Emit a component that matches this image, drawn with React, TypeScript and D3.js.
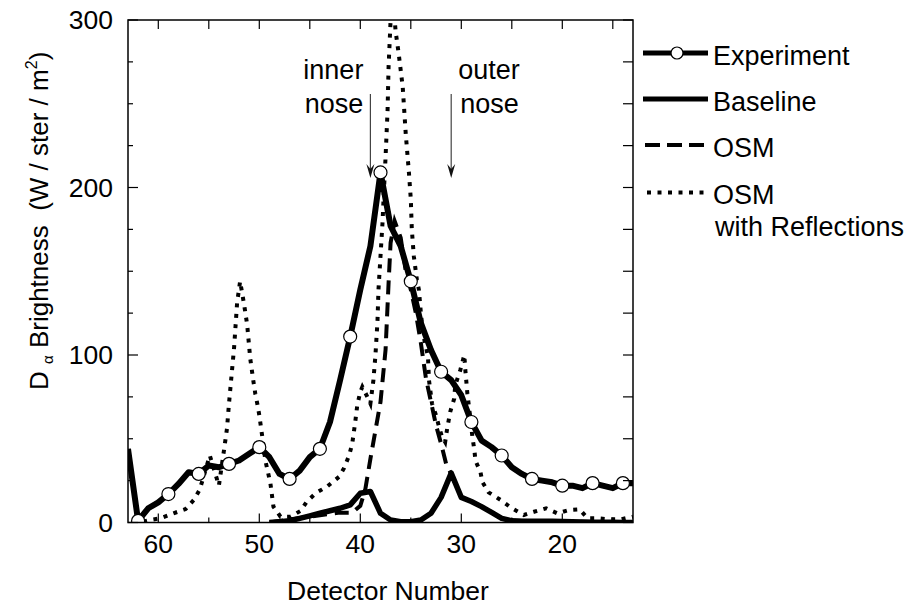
import React from 'react';
import * as d3 from 'd3';

// detector numbers for the measured profile (63 down to 13)
const expDetectors = d3.range(63, 12, -1);
const expValues = [
  44, 1, 8.5, 12, 17, 23, 30, 29, 34, 33, 35, 37, 41, 45, 39, 29, 26, 31, 39, 44,
  60, 85, 111, 139, 165, 209, 177, 165, 144, 119, 103, 90, 85, 76, 60, 49, 45, 40,
  33, 29, 26, 25, 24, 22, 22, 20.5, 23.5, 22, 20.5, 23.5, 23.5,
];

const baseDetectors = d3.range(49, 12, -1);
const baseValues = [
  0, 0.5, 1, 2.5, 4, 5.5, 7, 8.5, 10.5, 17.5, 18.5, 5.5, 1.5, 0.5, 0.5, 1.5, 5.5,
  15, 29.5, 15, 12.5, 9.5, 6, 2.5, 1, 0.8, 0.8, 0.8, 0.8, 0.6, 0.5, 0.3, 0.2, 0.2,
  0.1, 0, 0,
];

const osmDetectors = [49, 45, 42.2, 40.8, 40, 39.5, 39, 38.5, 38, 37.5, 37.2, 37, 36.6, 36, 35.5, 35, 34.5, 34, 33.5, 33, 32.5, 32, 31.5, 31, 30, 29, 28, 27, 26, 25, 20, 13];
const osmValues = [0, 3.5, 5.8, 5.8, 10, 20, 38, 55, 72, 103, 143, 167, 180, 170, 150, 139, 125, 107, 86, 72, 58, 47, 35, 29, 15, 12.5, 9.5, 6, 2.5, 1, 0.6, 0];

const reflDetectors = [
  61.5, 60.8, 59.8, 58.5, 57.3, 56.5, 55.9, 54.9, 54, 53.5, 53.2, 53, 52.7, 52.5, 52.2,
  51.9, 51.5, 51.2, 50.9, 50.6, 50.4, 50.2, 50, 49.7, 49.4, 48.9, 48.6, 47.9, 46.9,
  45.9, 45.3, 44.4, 43.3, 42.1, 41.6, 41.1, 40.8, 40.5, 40.3, 40, 39.8, 39.3, 39,
  38.7, 38.5, 38.3, 38.2, 38, 37.8, 37.7, 37.5, 37.3, 37.2, 37, 36.8, 36.5, 36.2,
  35.8, 35.5, 35.2, 35, 34.9, 34.7, 34.4, 34.2, 34, 33.8, 33.3, 33.2, 32.9, 32.5,
  32.2, 31.9, 31.6, 31.4, 31.1, 30.7, 30.6, 30.1, 29.7, 29.6, 29.4, 29.1, 28.9,
  28.7, 28.6, 28.1, 27.9, 27.3, 26.1, 25, 23.8, 22.8, 21.6, 20.5, 19.3, 18.3, 17.5,
  16.5, 15.3, 14.2, 13,
];
const reflValues = [
  0.5, 1.5, 2.5, 5.5, 8, 13.4, 19.6, 40, 22, 43, 56, 71, 91, 104, 131,
  144, 130, 118, 98, 85, 77, 71, 64, 51, 37, 23.4, 9.4, 3.5, 3.5,
  7, 12.4, 17.6, 21.4, 27.3, 32.6, 40.2, 47, 60, 70, 78, 81, 75, 71,
  85, 100, 120, 139, 159, 179, 193, 218, 246, 272, 300, 315, 293, 280,
  260, 232, 210, 193, 175, 159, 145, 139, 125, 113, 99, 85, 71, 64,
  57, 51, 48, 56, 66, 74, 82, 91, 100, 91, 77, 62, 51,
  43, 37, 30, 24, 18, 13.4, 8.5, 4.5, 6.4, 8.5, 5.5, 7.5, 7.9, 2.5,
  2.5, 1.9, 1.9, 3.5,
];

const xMajorTicks = [60, 50, 40, 30, 20];
const xAllTicks = [60, 55, 50, 45, 40, 35, 30, 25, 20, 15];
const yMajorTicks = [0, 100, 200, 300];
const yAllTicks = [0, 25, 50, 75, 100, 125, 150, 175, 200, 225, 250, 275, 300];

const innerNose = 39;
const outerNose = 31;

const FONT = '"Liberation Sans", Arial, Helvetica, sans-serif';

export default function App() {
  const left = 128, right = 633, top = 20, bottom = 522.5;
  const x = d3.scaleLinear().domain([63, 13]).range([left, right]);
  const y = d3.scaleLinear().domain([0, 300]).range([bottom, top]);

  const line = d3.line<[number, number]>().x(d => x(d[0])).y(d => y(d[1]));
  const zip = (a: number[], b: number[]) => a.map((v, i) => [v, b[i]] as [number, number]);

  const expPts = zip(expDetectors, expValues);
  const markers = expPts.filter(d => d[0] <= 62 && (62 - d[0]) % 3 === 0);

  const arrow = (d: number) => {
    const ax = x(d);
    return (
      <g key={d} stroke="#444" fill="#444">
        <line x1={ax} x2={ax} y1={94} y2={172} strokeWidth={1.2} />
        <path d={`M${ax},${178} L${ax - 4},${164} L${ax},${169} L${ax + 4},${164} Z`} stroke="none" fill="#111" />
      </g>
    );
  };

  return (
    <div style={{ position: 'absolute', left: 0, top: 0 }}>
      <svg width={913} height={611} style={{ display: 'block', background: '#fff' }} fontFamily={FONT}>
        <defs>
          <clipPath id="plot">
            <rect x={left} y={top} width={right - left} height={bottom - top} />
          </clipPath>
        </defs>

        <g clipPath="url(#plot)" fill="none" stroke="#000">
          <path d={line(zip(reflDetectors, reflValues)) || ''} strokeWidth={4} strokeDasharray="4 6.5" />
          <path d={line(zip(osmDetectors, osmValues)) || ''} strokeWidth={4} strokeDasharray="14 8" />
          <path d={line(zip(baseDetectors, baseValues)) || ''} strokeWidth={5.5} strokeLinejoin="round" />
          <path d={line(expPts) || ''} strokeWidth={6} strokeLinejoin="round" />
          {markers.map(d => (
            <circle key={d[0]} cx={x(d[0])} cy={y(d[1])} r={6.5} fill="#fff" stroke="#000" strokeWidth={1.2} />
          ))}
        </g>

        {/* frame and ticks */}
        <rect x={left} y={top} width={right - left} height={bottom - top} fill="none" stroke="#000" strokeWidth={1.5} />
        <g stroke="#000" strokeWidth={1.2}>
          {xAllTicks.map(t => {
            const len = xMajorTicks.includes(t) ? 9 : 5;
            return (
              <g key={t}>
                <line x1={x(t)} x2={x(t)} y1={bottom} y2={bottom - len} />
                <line x1={x(t)} x2={x(t)} y1={top} y2={top + 9} />
              </g>
            );
          })}
          {yAllTicks.map(t => {
            const len = yMajorTicks.includes(t) ? 10 : 5;
            return (
              <g key={t}>
                <line x1={left} x2={left + len} y1={y(t)} y2={y(t)} />
                <line x1={right} x2={right - 10} y1={y(t)} y2={y(t)} />
              </g>
            );
          })}
        </g>

        <g fontSize={26.5} fill="#000">
          {xMajorTicks.map(t => (
            <text key={t} x={x(t)} y={553} textAnchor="middle">{t}</text>
          ))}
          {yMajorTicks.map(t => (
            <text key={t} x={113} y={y(t) + 9} textAnchor="end">{t}</text>
          ))}
        </g>

        <text x={388} y={600} fontSize={26.5} textAnchor="middle">Detector Number</text>
        <text transform="translate(48,390) rotate(-90)" fontSize={26} style={{ whiteSpace: 'pre' }}>
          <tspan>D </tspan>
          <tspan fontSize={15} dy={5}>α</tspan>
          <tspan dy={-5}>{' Brightness  (W / ster / m'}</tspan>
          <tspan fontSize={16} dy={-11}>2</tspan>
          <tspan dy={11}>)</tspan>
        </text>

        {/* annotations */}
        <g fontSize={27}>
          <text x={x(innerNose) - 7} y={79} textAnchor="end">inner</text>
          <text x={x(innerNose) - 7} y={113} textAnchor="end">nose</text>
          <text x={x(outerNose) + 7} y={79}>outer</text>
          <text x={x(outerNose) + 9} y={113}>nose</text>
        </g>
        {arrow(innerNose)}
        {arrow(outerNose)}

        {/* legend */}
        <g stroke="#000" fill="none">
          <line x1={643} x2={708} y1={53} y2={53} strokeWidth={5} />
          <circle cx={677} cy={53} r={6} fill="#fff" strokeWidth={1.2} />
          <line x1={643} x2={708} y1={99} y2={99} strokeWidth={5} />
          <line x1={645} x2={708} y1={145} y2={145} strokeWidth={4} strokeDasharray="15 7" />
          <line x1={647} x2={708} y1={192.5} y2={192.5} strokeWidth={4} strokeDasharray="4 6.5" />
        </g>
        <g fontSize={27}>
          <text x={713} y={65}>Experiment</text>
          <text x={713} y={111}>Baseline</text>
          <text x={713} y={157}>OSM</text>
          <text x={713} y={204}>OSM</text>
          <text x={715} y={236}>with Reflections</text>
        </g>
      </svg>
    </div>
  );
}
